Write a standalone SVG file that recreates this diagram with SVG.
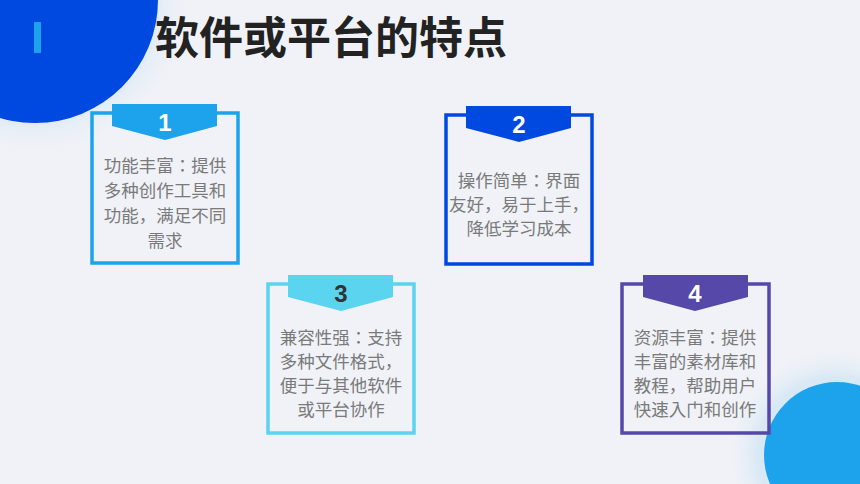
<svg xmlns="http://www.w3.org/2000/svg" width="860" height="484" viewBox="0 0 860 484">
<style>
.t{font-family:"Noto Sans CJK JP","Noto Sans CJK SC",sans-serif;font-size:17.5px;fill:#7a7a7a;text-anchor:middle}
.n{font-family:"Liberation Sans","Noto Sans",sans-serif;font-size:24px;font-weight:bold;fill:#fff;text-anchor:middle}
.b{fill:none;stroke-width:3.5}
</style>
<defs>
<radialGradient id="g1"><stop offset="0.7" stop-color="#d8e8f5"/><stop offset="1" stop-color="#f0f2f7" stop-opacity="0"/></radialGradient>
</defs>
<rect width="860" height="484" fill="#f0f2f7"/>
<circle cx="35" cy="0" r="160" fill="url(#g1)"/>
<circle cx="835" cy="455" r="110" fill="url(#g1)"/>
<circle cx="35" cy="0" r="123" fill="#0049e0"/>
<rect x="34" y="22" width="7" height="31" fill="#1da3ec"/>
<circle cx="837" cy="455" r="73" fill="#1da3ec"/>
<text x="155" y="54" font-family="'Noto Sans CJK SC',sans-serif" font-size="44" font-weight="bold" fill="#222">软件或平台的特点</text>
<g id="node1">
<rect class="b" x="92" y="113" width="146" height="150" stroke="#1da3ec"/>
<polygon points="112,104 217,104 217,126 165,140 112,126" fill="#1da3ec"/>
<text class="n" x="165" y="131">1</text>
<text class="t" x="165" y="172">功能丰富：提供</text>
<text class="t" x="165" y="197">多种创作工具和</text>
<text class="t" x="165" y="222">功能，满足不同</text>
<text class="t" x="165" y="247">需求</text>
</g>
<g id="node2">
<rect class="b" x="446" y="115" width="146" height="149" stroke="#0049e0"/>
<polygon points="466,106 571,106 571,128 519,142 466,128" fill="#0049e0"/>
<text class="n" x="519" y="133">2</text>
<text class="t" x="519" y="187">操作简单：界面</text>
<text class="t" x="519" y="211">友好，易于上手，</text>
<text class="t" x="519" y="235">降低学习成本</text>
</g>
<g id="node3">
<rect class="b" x="268" y="284" width="146" height="149" stroke="#5bd4f0"/>
<polygon points="288,275 393,275 393,297 341,311 288,297" fill="#5bd4f0"/>
<text class="n" x="341" y="302" style="fill:#333">3</text>
<text class="t" x="341" y="344">兼容性强：支持</text>
<text class="t" x="341" y="368">多种文件格式，</text>
<text class="t" x="341" y="392">便于与其他软件</text>
<text class="t" x="341" y="416">或平台协作</text>
</g>
<g id="node4">
<rect class="b" x="622" y="284" width="147" height="149" stroke="#5548a9"/>
<polygon points="643,275 748,275 748,297 695,311 643,297" fill="#5548a9"/>
<text class="n" x="695" y="302">4</text>
<text class="t" x="695" y="344">资源丰富：提供</text>
<text class="t" x="695" y="368">丰富的素材库和</text>
<text class="t" x="695" y="392">教程，帮助用户</text>
<text class="t" x="695" y="416">快速入门和创作</text>
</g>
<g id="connectors"></g>
</svg>
